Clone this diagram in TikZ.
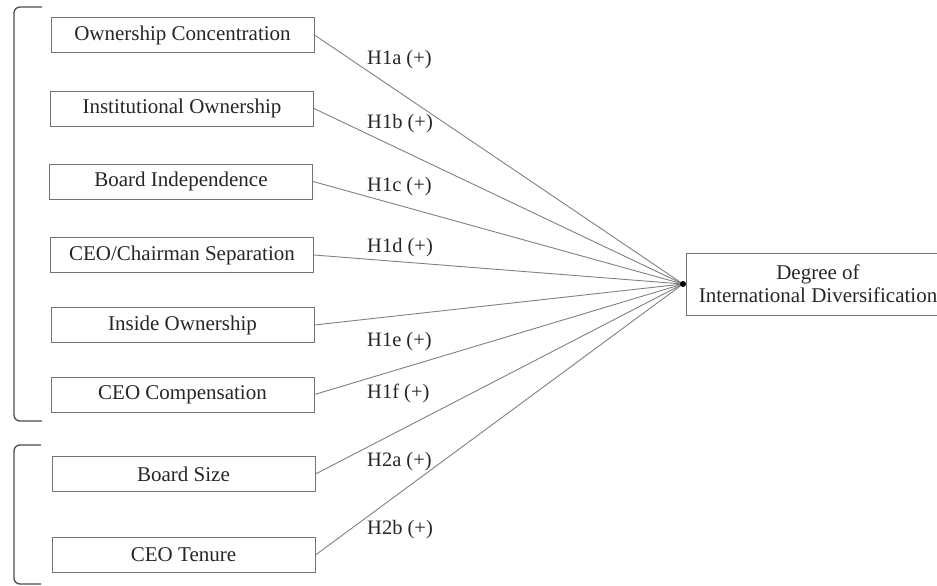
\documentclass[tikz,border=0pt]{standalone}
\usepackage{fontspec}
\setmainfont{Liberation Serif}
\begin{document}
\begin{tikzpicture}[x=1pt,y=-1pt,
  varbox/.style={draw=black!55, line width=1pt, minimum width=263pt, minimum height=35pt, inner sep=0pt, font=\fontsize{21}{23}\selectfont, text=black!85},
  link/.style={draw=black!50, line width=0.9pt},
  hyp/.style={font=\fontsize{20.5}{22}\selectfont, text=black!85, anchor=west, inner sep=0pt},
  brack/.style={draw=black!70, line width=1.3pt}]
\useasboundingbox (0,0) rectangle (937,586);
\clip (0,0) rectangle (937,586);
\node[varbox] (b1) at (182.5,35) {Ownership Concentration};
\node[varbox] (b2) at (182,108.5) {Institutional Ownership};
\node[varbox] (b3) at (181,181.5) {Board Independence};
\node[varbox] (b4) at (182,255) {CEO/Chairman Separation};
\node[varbox] (b5) at (182.5,325) {Inside Ownership};
\node[varbox] (b6) at (182.5,394.5) {CEO Compensation};
\node[varbox] (b7) at (183.5,474) {Board Size};
\node[varbox] (b8) at (183.5,555) {CEO Tenure};
\node[draw=black!55, line width=1pt, minimum width=264pt, minimum height=62pt, inner sep=0pt, align=center, font=\fontsize{21}{23}\selectfont, text=black!85] (dv) at (818,284) {Degree of\\International Diversification};
\coordinate (hub) at (683,284);
\foreach \b in {b1,b2,b3,b4,b5,b6,b7,b8}{\draw[link] (\b.east) -- (hub);}
\fill[black] (hub) circle (3pt);
\node[hyp] (h1) at (367,60) {H1a (+)};
\node[hyp] (h2) at (367,124) {H1b (+)};
\node[hyp] (h3) at (367,187) {H1c (+)};
\node[hyp] (h4) at (367,248) {H1d (+)};
\node[hyp] (h5) at (367,342) {H1e (+)};
\node[hyp] (h6) at (367,393) {H1f (+)};
\node[hyp] (h7) at (367,462) {H2a (+)};
\node[hyp] (h8) at (367,530) {H2b (+)};
\draw[brack] (42,7) -- (20,7) to[out=180,in=90] (14,13) -- (14,415) to[out=-90,in=180] (20,421) -- (42,421);
\draw[brack] (41,445) -- (20,445) to[out=180,in=90] (14,451) -- (14,578) to[out=-90,in=180] (20,584) -- (41,584);
\end{tikzpicture}
\end{document}
